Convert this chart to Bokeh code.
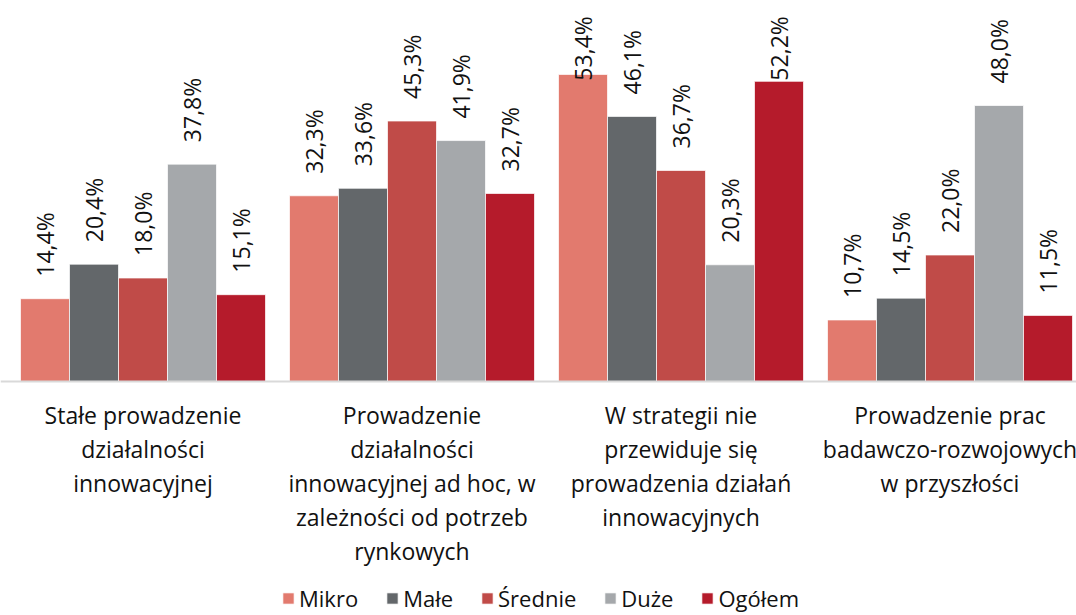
import numpy as np
from bokeh.plotting import figure
from bokeh.models import ColumnDataSource, Span, Legend, LegendItem, Range1d
from bokeh.core.properties import value
from bokeh.transform import dodge
from bokeh.embed import file_html
from bokeh.resources import INLINE

categories = [
    "Stałe prowadzenie\ndziałalności\ninnowacyjnej",
    "Prowadzenie\ndziałalności\ninnowacyjnej ad hoc, w\nzależności od potrzeb\nrynkowych",
    "W strategii nie\nprzewiduje się\nprowadzenia działań\ninnowacyjnych",
    "Prowadzenie prac\nbadawczo-rozwojowych\nw przyszłości",
]
series = ["Mikro", "Małe", "Średnie", "Duże", "Ogółem"]
mikro = [14.4, 32.3, 53.4, 10.7]
male = [20.4, 33.6, 46.1, 14.5]
srednie = [18.0, 45.3, 36.7, 22.0]
duze = [37.8, 41.9, 20.3, 48.0]
ogolem = [15.1, 32.7, 52.2, 11.5]
colors = ["#E27A6E", "#63676A", "#C04B48", "#A5A8AB", "#B51B2B"]

FONT = "Open Sans"
TXT = "#111111"
W, H = 1076, 615
GROUP_PX = 269.0
PX_PER_PCT = 5.75
BASE_PX = 381.0       # px from top of figure to baseline
FIRST_CENTER_PX = 142.5
LABEL_CLAMP = 48.5    # labels of taller bars are pushed down to stay inside the plot

x0 = 0.5 - FIRST_CENTER_PX / GROUP_PX
p = figure(
    width=W, height=H,
    x_range=Range1d(x0, x0 + W / GROUP_PX),
    y_range=Range1d(-(H - BASE_PX) / PX_PER_PCT, BASE_PX / PX_PER_PCT),
    output_backend="svg", toolbar_location=None,
    min_border=0, outline_line_color=None,
)
p.axis.visible = False
p.grid.visible = False

xs = [i + 0.5 for i in range(len(categories))]
bw = 49.0 / GROUP_PX
all_vals = [mikro, male, srednie, duze, ogolem]

items = []
for k, (name, vals, col) in enumerate(zip(series, all_vals, colors)):
    src = ColumnDataSource(dict(
        x=xs, top=vals,
        ly=[min(v, LABEL_CLAMP) for v in vals],
        label=[f"{v:.1f}".replace(".", ",") + "%" for v in vals],
    ))
    off = (k - 2) * bw
    r = p.vbar(x=dodge("x", off, range=p.x_range), top="top", bottom=0, width=bw,
               source=src, fill_color=col, line_color="white", line_alpha=0.7, line_width=1)
    p.text(x=dodge("x", off, range=p.x_range), y="ly", text="label", source=src,
           angle=np.pi / 2, text_align="left", text_baseline="middle",
           y_offset=-22, text_font=value(FONT), text_font_size="23px", text_color=TXT)
    items.append(LegendItem(label=name, renderers=[r]))

p.add_layout(Span(location=0, dimension="width", line_color="#d9d9d9", line_width=2))

cat_src = ColumnDataSource(dict(x=xs, y=[0] * len(xs), text=categories))
p.text(x="x", y="y", text="text", source=cat_src, text_align="center", text_baseline="top",
       y_offset=17, text_font=value(FONT), text_font_size="23px", text_line_height=1.065,
       text_color=TXT)

legend = Legend(items=items, orientation="horizontal", location=(281, 2),
                glyph_width=14, glyph_height=14, label_standoff=4, spacing=27,
                padding=0, margin=0, border_line_color=None, background_fill_alpha=0,
                label_text_font=FONT, label_text_font_size="22px", label_text_color=TXT)
p.add_layout(legend)

open("out.html", "w").write(file_html(p, INLINE))
